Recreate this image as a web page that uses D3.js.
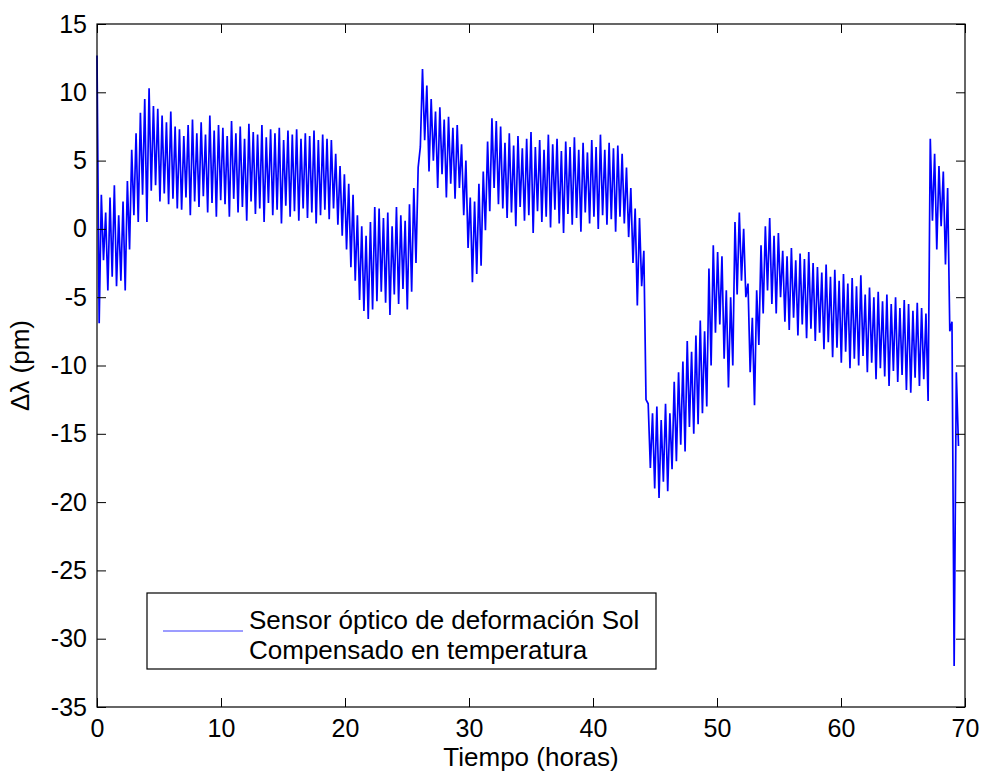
<!DOCTYPE html>
<html lang="es">
<head>
<meta charset="utf-8">
<title>Sensor óptico de deformación Sol</title>
<script src="https://cdn.jsdelivr.net/npm/d3@7"></script>
<style>
  body { margin: 0; background: #fff; }
  svg text { font-family: "Liberation Sans", Arial, sans-serif; fill: #000; }
</style>
</head>
<body>
<svg id="chart" width="982" height="775"></svg>
<script>
// sampling step in hours, one peak and one trough per step
var step = 0.35;

// local maxima of the signal (pm), one per step starting at 0 h
var peaks = [
  12.7,
  2.5, 1.2, 2.3, 3.2, 1.0, 2.0,
  3.5, 5.8, 7.0,
  8.5, 9.5, 10.3, 9.0, 8.8,
  8.3, 7.8, 8.6, 7.5,
  7.3, 6.8, 7.6, 8.0, 7.0, 7.8, 6.9, 8.3, 7.2, 7.6,
  7.4, 6.8, 7.9, 7.0, 7.5, 6.6, 7.7, 7.1, 6.9, 7.6, 6.7, 7.3, 7.0, 7.4, 6.5, 7.2, 6.9, 7.3, 6.6, 7.0, 6.8, 7.2, 6.5, 6.9, 6.6,
  6.5, 5.5, 4.6, 4.0, 3.3, 2.5,
  1.0, 0.2, -0.5, 0.5, 1.6,
  1.5, 0.8, 1.2, 0.2, 1.6, 1.0, 0.6, 1.8,
  3.0, 4.5,
  11.7, 10.5, 9.5, 8.6, 8.9, 8.0, 8.2, 7.4, 7.6,
  6.2, 5.0,
  2.3, 2.0, 3.3,
  4.2, 6.4, 8.1, 7.9,
  7.5, 6.3, 7.0, 6.1, 6.8, 5.9, 6.6, 7.1, 6.0, 6.5, 5.8, 6.9, 6.2, 6.6, 5.7, 6.4, 6.0, 6.7, 5.8, 6.3, 5.6, 6.5, 6.0, 6.9, 5.8, 6.3, 5.9, 6.1, 5.5,
  4.5, 3.0, 1.5, 0.8, -1.6,
  -12.8, -13.5, -13.0, -14.0, -12.8, -13.5,
  -11.2, -10.5, -9.7, -8.2, -9.0,
  -7.8, -6.7, -7.5,
  -2.9, -1.2, -1.7, -2.0,
  -4.5, -5.0,
  0.5, 1.2, 0.0,
  -4.0, -6.5,
  -4.5, -1.2,
  0.2, 0.8, -0.5, -0.3,
  -1.6, -2.0, -1.4, -2.3, -1.8,
  -2.2, -1.7, -2.5, -2.8, -3.2, -2.6, -3.5, -3.0, -3.8, -3.3, -4.0, -3.6, -4.2, -3.4, -4.8, -4.3, -5.0, -4.6, -5.3, -4.8, -5.5, -5.0, -5.8, -5.2, -5.5, -6.0, -5.4, -5.8, -6.2,
  6.6, 5.5, 4.6, 4.2, 3.0,
  -6.8, -10.5
];

// local minima, half a step after each peak
var troughs = [
  -6.9,
  -2.3, -4.5, -3.5, -4.2, -3.8, -4.5,
  -1.5, 1.0, 0.5,
  2.5, 0.5, 2.8, 3.2, 2.0,
  2.6, 1.8, 2.2, 1.5,
  1.4, 2.3, 1.0, 2.0, 1.6, 2.4, 1.2, 1.9, 0.9, 2.1,
  1.8, 0.9, 2.2, 1.2, 1.6, 0.6, 2.0, 1.1, 1.5, 0.5, 1.9, 1.0, 1.4, 0.4, 1.7, 0.9, 1.3, 0.6, 1.5, 0.8, 1.2, 0.4, 1.0, 1.4, 0.7,
  1.5, 0.3, -0.5, -1.5, -2.8, -3.8,
  -5.2, -6.0, -6.6, -5.9, -5.3,
  -4.6, -5.4, -6.3, -4.8, -5.5, -4.4, -5.9, -4.6,
  -2.5, 6.0,
  6.5, 4.2, 5.0, 3.0, 4.0, 2.3, 3.3, 2.2, 3.0,
  1.0, -1.4,
  -3.9, -3.3, -2.7,
  -0.1, 1.3, 3.0, 1.8,
  1.5, 0.8, 1.2, 0.2, 1.6, 0.6, 1.0, -0.3, 1.3, 0.5, 0.9, 0.1, 1.4, 0.4, -0.3, 1.1, 0.3, 0.8, -0.2, 1.2, 0.4, 0.9, 0.0, 1.0, 0.3, 0.7, -0.2, 0.9, 0.4,
  -0.6, -2.5, -5.6, -4.2, -12.5,
  -17.5, -19.0, -19.7, -18.5, -19.2, -17.6,
  -17.0, -15.8, -16.3, -14.5, -15.0,
  -14.3, -13.5, -13.0,
  -10.0, -7.6, -7.0, -9.5,
  -11.6, -10.0,
  -4.8, -3.8, -5.0,
  -10.5, -12.9,
  -8.5, -6.2,
  -4.5, -5.5, -6.2, -5.0,
  -6.8, -7.4, -6.5, -7.8, -7.0,
  -8.0, -7.3, -8.2, -7.6, -8.8, -8.3, -9.4, -8.7, -9.8, -9.0, -10.2, -9.5, -10.0, -9.3, -10.5, -9.8, -11.0, -10.2, -10.8, -11.5, -10.4, -11.2, -10.7, -11.8, -12.0, -10.9, -11.5, -11.0, -12.6,
  0.6, -1.5, 0.2, -2.6, -7.5,
  -32.0, -15.9
];

var xTicks = [0, 10, 20, 30, 40, 50, 60, 70];
var yTicks = [15, 10, 5, 0, -5, -10, -15, -20, -25, -30, -35];
var legendText = ["Sensor óptico de deformación Sol", "Compensado en temperatura"];

var svg = d3.select("#chart"),
    margin = { top: 24, right: 17, bottom: 68, left: 97 },
    width = +svg.attr("width") - margin.left - margin.right,
    height = +svg.attr("height") - margin.top - margin.bottom,
    g = svg.append("g").attr("transform", "translate(" + margin.left + "," + margin.top + ")");

var x = d3.scaleLinear().domain([0, 70]).range([0, width]);
var y = d3.scaleLinear().domain([-35, 15]).range([height, 0]);

// zigzag: peak, trough, peak, trough...
var points = [];
peaks.forEach(function (p, i) {
  points.push([i * step, p]);
  points.push([i * step + step / 2, troughs[i]]);
});

var line = d3.line()
  .x(function (d) { return x(d[0]); })
  .y(function (d) { return y(d[1]); });

g.append("path")
  .datum(points)
  .attr("fill", "none")
  .attr("stroke", "#0000ff")
  .attr("stroke-width", 1.7)
  .attr("stroke-linejoin", "bevel")
  .attr("d", line);

// axes with ticks pointing inwards, MATLAB style
var tickFont = 25, labelFont = 26;
var plain = function (d) { return String(d); }; // keep the ascii hyphen as minus
function style(sel) {
  sel.select(".domain").remove();
  sel.selectAll(".tick line").attr("stroke", "#000");
  sel.selectAll("text").attr("font-size", tickFont).attr("font-family", "Liberation Sans, Arial, sans-serif").attr("fill", "#000");
}

g.append("g")
  .attr("transform", "translate(0," + height + ")")
  .call(d3.axisBottom(x).tickValues(xTicks).tickFormat(plain).tickSizeInner(-9).tickSizeOuter(0).tickPadding(12))
  .call(style);

g.append("g")
  .call(d3.axisTop(x).tickValues(xTicks).tickSizeInner(-9).tickSizeOuter(0).tickFormat(""))
  .call(style);

g.append("g")
  .call(d3.axisLeft(y).tickValues(yTicks).tickFormat(plain).tickSizeInner(-9).tickSizeOuter(0).tickPadding(10))
  .call(style);

g.append("g")
  .attr("transform", "translate(" + width + ",0)")
  .call(d3.axisRight(y).tickValues(yTicks).tickSizeInner(-9).tickSizeOuter(0).tickFormat(""))
  .call(style);

g.append("rect")
  .attr("width", width)
  .attr("height", height)
  .attr("fill", "none")
  .attr("stroke", "#000")
  .attr("stroke-width", 1.2);

// axis titles
svg.append("text")
  .attr("x", margin.left + width / 2)
  .attr("y", 766)
  .attr("text-anchor", "middle")
  .attr("font-size", labelFont)
  .text("Tiempo (horas)");

svg.append("text")
  .attr("transform", "translate(29," + (margin.top + height / 2) + ") rotate(-90)")
  .attr("text-anchor", "middle")
  .attr("font-size", labelFont)
  .text("Δλ (pm)");

// legend
var legend = svg.append("g").attr("transform", "translate(147,593)");
legend.append("rect")
  .attr("width", 509)
  .attr("height", 76)
  .attr("fill", "#fff")
  .attr("stroke", "#000")
  .attr("stroke-width", 1.2);
legend.append("line")
  .attr("x1", 16).attr("x2", 96)
  .attr("y1", 38).attr("y2", 38)
  .attr("stroke", "#3a3aff")
  .attr("stroke-width", 1);
legend.selectAll("text.leg")
  .data(legendText)
  .enter().append("text")
  .attr("class", "leg")
  .attr("x", 102)
  .attr("y", function (d, i) { return 36 + i * 30; })
  .attr("font-size", labelFont)
  .text(function (d) { return d; });
</script>
</body>
</html>
